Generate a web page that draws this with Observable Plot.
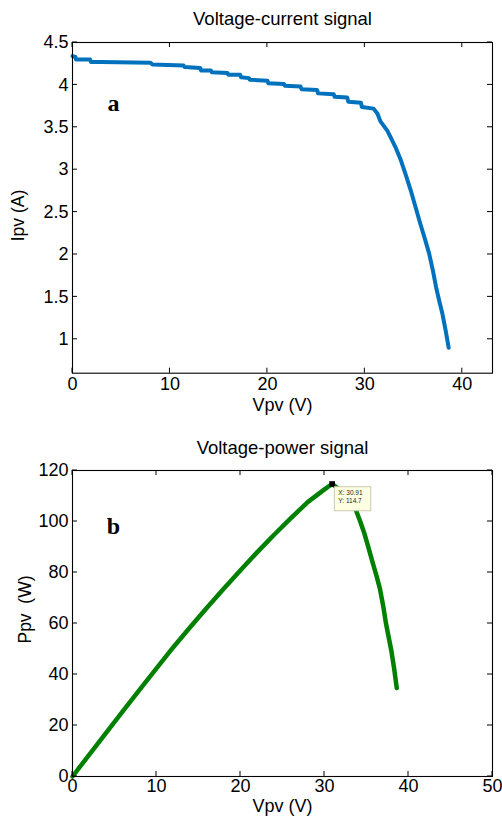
<!DOCTYPE html>
<html><head><meta charset="utf-8">
<script src="https://cdn.jsdelivr.net/npm/d3@7"></script>
<script src="https://cdn.jsdelivr.net/npm/@observablehq/plot@0.6"></script>
<style>
body{margin:0;background:#fff;}
#wrap{width:502px;}
svg{display:block;}
svg text{white-space:pre;}
g[aria-label="ylabel"] text{letter-spacing:1.4px;}
</style></head><body><div id="wrap"></div>
<script>
// ---- data ----
const ivVoltage = [0,0.3,0.35,1.8,1.9,2.9,8.0,8.2,11.4,11.5,13.1,13.2,14.2,14.3,15.9,16.0,17.2,17.3,18.1,18.2,20.0,20.1,21.7,21.8,23.4,23.5,25.1,25.2,26.8,26.9,28.2,28.3,29.6,29.7,30.9,31.3,31.6,32.3,32.65,33.2,33.7,34.2,34.7,35.2,35.7,36.2,36.6,37.0,37.3,37.6,37.96,38.3,38.6];
const ivCurrent = [4.34,4.33,4.30,4.30,4.27,4.27,4.26,4.24,4.23,4.21,4.20,4.17,4.17,4.15,4.14,4.12,4.12,4.09,4.08,4.06,4.05,4.02,4.01,3.99,3.98,3.95,3.94,3.90,3.89,3.86,3.85,3.80,3.79,3.74,3.72,3.66,3.57,3.46,3.38,3.25,3.11,2.94,2.76,2.56,2.36,2.17,2.01,1.80,1.62,1.47,1.30,1.10,0.90];
const pvVoltage = [0,2,4,6,8,10,12,14,16,18,20,22,24,26,28,30,30.91,31.6,32.3,32.65,33.2,33.7,34.2,34.7,35.2,35.7,36.2,36.6,37.0,37.3,37.6,37.96,38.3,38.6];
const pvPower = [0,8.6,17.1,25.6,34.1,42.4,50.7,58.5,66.2,73.6,80.9,88.0,94.8,101.3,107.6,112.6,114.7,113.0,111.7,110.4,107.9,104.8,100.5,95.8,90.1,84.3,78.6,73.6,66.6,60.4,55.3,49.3,42.1,34.7];
const ivXTicks = [0,10,20,30,40];
const ivYTicks = [1,1.5,2,2.5,3,3.5,4,4.5];
const pvXTicks = [0,10,20,30,40,50];
const pvYTicks = [0,20,40,60,80,100,120];
const peakV = 30.91, peakP = 114.7;
const titles = ["Voltage-current signal","Voltage-power signal"];
const xLabel = "Vpv (V)";
const yLabels = ["Ipv (A)","Ppv  (W)"];
const panelLetters = ["a","b"];

const FONT = "'Liberation Sans', Arial, Helvetica, sans-serif";
const SERIF = "'Liberation Serif', 'Times New Roman', serif";
const iv = ivVoltage.map((v,k)=>({v, i: ivCurrent[k]}));
const pv = pvVoltage.map((v,k)=>({v, p: pvPower[k]}));
const fmt = d => String(d);

// inward tick marks on all four sides (MATLAB box style), positioned by the scales
function innerTicks(xt, yt, len){
  return function(index, scales, values, dim){
    const g = d3.create("svg:g").attr("stroke", "#000").attr("stroke-width", 1);
    const top = dim.marginTop, bottom = dim.height - dim.marginBottom;
    const left = dim.marginLeft, right = dim.width - dim.marginRight;
    for (const t of xt){
      const x = scales.x(t);
      g.append("line").attr("x1", x).attr("x2", x).attr("y1", bottom).attr("y2", bottom - len);
      g.append("line").attr("x1", x).attr("x2", x).attr("y1", top).attr("y2", top + len);
    }
    for (const t of yt){
      const y = scales.y(t);
      g.append("line").attr("y1", y).attr("y2", y).attr("x1", left).attr("x2", left + len);
      g.append("line").attr("y1", y).attr("y2", y).attr("x1", right).attr("x2", right - len);
    }
    return g.node();
  };
}

function boxAxes(xt, yt, pad){
  return [
    Plot.frame({stroke:"#000", strokeWidth:1.1}),
    Plot.axisX(xt,{anchor:"bottom", tickSize:0, tickPadding:pad, tickFormat:fmt, label:null, fill:"#000"}),
    Plot.axisY(yt,{anchor:"left", tickSize:0, tickPadding:4, tickFormat:fmt, label:null, fill:"#000"}),
    innerTicks(xt, yt, 5)
  ];
}

const chart1 = Plot.plot({
  width:502, height:420, marginTop:42, marginBottom:47.3, marginLeft:72, marginRight:10,
  style:{fontFamily:FONT, fontSize:"18px", color:"#000", background:"#fff"},
  x:{domain:[0,43.1]},
  y:{domain:[0.6,4.5]},
  marks:[
    Plot.line(iv,{x:"v", y:"i", stroke:"#0072BD", strokeWidth:4}),
    ...boxAxes(ivXTicks, ivYTicks, 4.5),
    Plot.text([titles[0]],{text:d=>d, frameAnchor:"top", textAnchor:"middle", dy:-18, lineAnchor:"bottom", fontSize:18.5}),
    Plot.text([xLabel],{text:d=>d, frameAnchor:"bottom", textAnchor:"middle", dy:37.3, lineAnchor:"bottom", fontSize:18}),
    Plot.text([yLabels[0]],{text:d=>d, frameAnchor:"left", textAnchor:"middle", rotate:-90, dx:-48.7, dy:7.7, lineAnchor:"bottom", fontSize:17.5, ariaLabel:"ylabel"}),
    Plot.text([panelLetters[0]],{text:d=>d, frameAnchor:"top-left", textAnchor:"middle", dx:41, dy:68, lineAnchor:"bottom", fontSize:24, fontWeight:"bold", fontFamily:SERIF})
  ]
});

function datatip(index, scales){
  const px = scales.x(peakV), py = scales.y(peakP);
  const g = d3.create("svg:g").attr("text-anchor", "start");
  g.append("rect").attr("x", px+2.7).attr("y", py+3.2).attr("width", 36.4).attr("height", 24)
    .attr("fill", "#ffffe1").attr("stroke", "#c9c9b0").attr("stroke-width", 1);
  g.append("text").attr("x", px+6.7).attr("y", py+11).attr("font-size", 6.5).attr("fill","#222")
    .text("X: " + peakV);
  g.append("text").attr("x", px+6.7).attr("y", py+19.4).attr("font-size", 6.5).attr("fill","#222")
    .text("Y: " + peakP);
  return g.node();
}

const chart2 = Plot.plot({
  width:502, height:396, marginTop:50, marginBottom:40, marginLeft:72, marginRight:10,
  style:{fontFamily:FONT, fontSize:"18px", color:"#000", background:"#fff"},
  x:{domain:[0,50]},
  y:{domain:[0,120]},
  marks:[
    Plot.line(pv,{x:"v", y:"p", stroke:"#008000", strokeWidth:4.5}),
    ...boxAxes(pvXTicks, pvYTicks, 2.9),
    Plot.dot([{v:peakV, p:peakP}],{x:"v", y:"p", symbol:"square", r:3.2, fill:"#000", stroke:"none"}),
    datatip,
    Plot.text([titles[1]],{text:d=>d, frameAnchor:"top", textAnchor:"middle", dy:-16.7, lineAnchor:"bottom", fontSize:18.5}),
    Plot.text([xLabel],{text:d=>d, frameAnchor:"bottom", textAnchor:"middle", dy:35.7, lineAnchor:"bottom", fontSize:18}),
    Plot.text([yLabels[1]],{text:d=>d, frameAnchor:"left", textAnchor:"middle", rotate:-90, dx:-42, dy:-14, lineAnchor:"bottom", fontSize:17.5, ariaLabel:"ylabel"}),
    Plot.text([panelLetters[1]],{text:d=>d, frameAnchor:"top-left", textAnchor:"middle", dx:41, dy:63.3, lineAnchor:"bottom", fontSize:24, fontWeight:"bold", fontFamily:SERIF})
  ]
});

const wrap = document.getElementById("wrap");
wrap.appendChild(chart1);
wrap.appendChild(chart2);
</script>
</body></html>
